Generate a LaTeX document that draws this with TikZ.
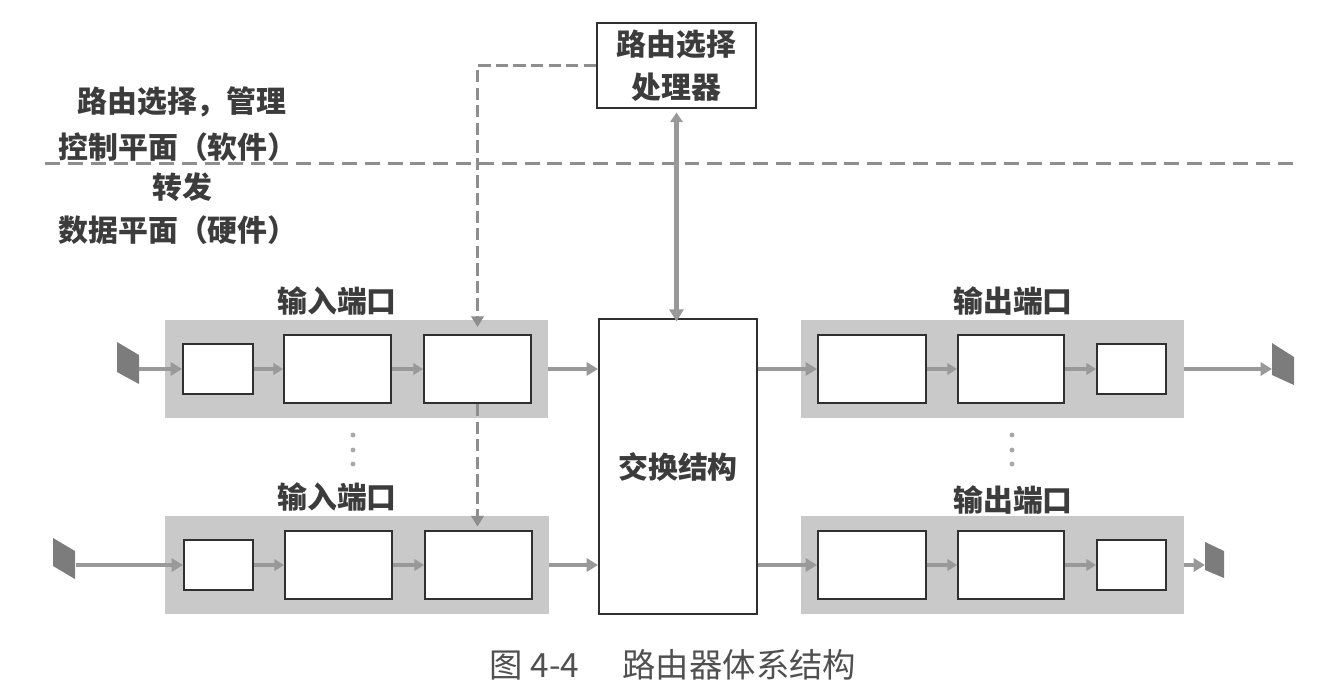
\documentclass[tikz,border=0pt]{standalone}
\usepackage{fontspec}
\newfontfamily\cjk{Noto Sans CJK SC}
\usetikzlibrary{arrows.meta}
\definecolor{portgray}{HTML}{C9C9C9}
\definecolor{arrowgray}{HTML}{999999}
\definecolor{dashgray}{HTML}{8E8E8E}
\definecolor{boxline}{HTML}{303030}
\definecolor{txt}{HTML}{3C3C3C}
\definecolor{captxt}{HTML}{505050}
\definecolor{plate}{HTML}{7C7C7C}
\definecolor{dotgray}{HTML}{A8A8A8}
\newcommand\placebox[7]{\node[#2, minimum width={(#5-#3)*0.02cm}, minimum height={(#6-#4)*0.02cm}] (#1) at ({(#3+#5)/2},{(#4+#6)/2}) {#7};}
\begin{document}
\begin{tikzpicture}[x=0.02cm,y=-0.02cm,
  lbl/.style={font=\cjk\bfseries\fontsize{17}{20}\selectfont, text=txt, inner sep=0pt},
  port/.style={fill=portgray, draw=none, inner sep=0pt},
  unit/.style={fill=white, draw=boxline, line width=1.1pt, inner sep=0pt, font=\cjk\bfseries\fontsize{17}{24.5}\selectfont, text=txt, align=center},
  garrow/.style={draw=arrowgray, line width=2.4pt, -{Triangle[length=6.5pt,width=7.5pt]}},
  sarrow/.style={draw=arrowgray, line width=1.9pt, -{Triangle[length=5.5pt,width=6.5pt]}},
  dblarrow/.style={draw=arrowgray, line width=2.4pt, {Triangle[length=5.5pt,width=7pt]}-{Triangle[length=7pt,width=8pt]}},
  ctl/.style={draw=dashgray, line width=1.4pt, dash pattern=on 7pt off 3pt, -{Triangle[length=6pt,width=7pt]}},
  planeline/.style={draw=dashgray, line width=1.7pt, dash pattern=on 8.5pt off 4.5pt},
  plateshape/.style={fill=plate, draw=none}
]
\useasboundingbox (0,0) rectangle (1340,698);

% plane separator
\coordinate (dl) at (45,163);
\coordinate (dr) at (1295,163);
\draw[planeline] (dl) -- (dr);

% left texts
\node[lbl] (t1) at (182,102) {路由选择，管理};
\node[lbl] (t2) at (178,147) {控制平面（软件）};
\node[lbl] (t3) at (182,187) {转发};
\node[lbl] (t4) at (178,230) {数据平面（硬件）};

% router processor and switch fabric
\placebox{router}{unit}{597}{23}{756}{108}{路由选择\\处理器}
\placebox{switch}{unit}{599}{319}{757}{614}{交换结构}

% ports
\placebox{in1}{port}{165}{320}{548}{418}{}
\placebox{in1a}{unit}{183}{344}{253}{394}{}
\placebox{in1b}{unit}{284}{335}{391}{403}{}
\placebox{in1c}{unit}{424}{335}{531}{403}{}
\placebox{in2}{port}{165}{516}{549}{614}{}
\placebox{in2a}{unit}{184}{540}{253}{590}{}
\placebox{in2b}{unit}{285}{531}{392}{599}{}
\placebox{in2c}{unit}{425}{531}{532}{599}{}
\placebox{out1}{port}{801}{320}{1184}{418}{}
\placebox{out1a}{unit}{818}{335}{926}{403}{}
\placebox{out1b}{unit}{958}{335}{1064}{403}{}
\placebox{out1c}{unit}{1097}{344}{1166}{394}{}
\placebox{out2}{port}{801}{516}{1184}{614}{}
\placebox{out2a}{unit}{818}{531}{926}{599}{}
\placebox{out2b}{unit}{958}{531}{1064}{599}{}
\placebox{out2c}{unit}{1097}{540}{1166}{590}{}

% port labels
\node[lbl] (inlab1) at (337,301) {输入端口};
\node[lbl] (inlab2) at (337,497) {输入端口};
\node[lbl] (outlab1) at (1013,301) {输出端口};
\node[lbl] (outlab2) at (1013,500) {输出端口};

% line plates
\fill[plateshape] (117,342) -- (139,355) -- (139,384) -- (117,372) -- cycle;
\coordinate (p1) at (139,369);
\fill[plateshape] (53,538) -- (75,551) -- (75,579) -- (53,566) -- cycle;
\coordinate (p2) at (76,565);
\fill[plateshape] (1272,343) -- (1294,357) -- (1294,385) -- (1272,375) -- cycle;
\coordinate (q1) at (1272,369);
\fill[plateshape] (1205,542) -- (1224,551) -- (1224,578) -- (1205,570) -- cycle;
\coordinate (q2) at (1205,565);

% data path arrows, top row
\draw[garrow] (p1) -- (in1a.west);
\draw[sarrow] (in1a.east) -- (in1b.west);
\draw[sarrow] (in1b.east) -- (in1c.west);
\draw[garrow] (in1.east) -- (in1.east -| switch.west);
\draw[garrow] (switch.east |- out1a.west) -- (out1a.west);
\draw[sarrow] (out1a.east) -- (out1b.west);
\draw[sarrow] (out1b.east) -- (out1c.west);
\draw[garrow] (out1.east) -- (q1);

% data path arrows, bottom row
\draw[garrow] (p2) -- (in2a.west);
\draw[sarrow] (in2a.east) -- (in2b.west);
\draw[sarrow] (in2b.east) -- (in2c.west);
\draw[garrow] (in2.east) -- (in2.east -| switch.west);
\draw[garrow] (switch.east |- out2a.west) -- (out2a.west);
\draw[sarrow] (out2a.east) -- (out2b.west);
\draw[sarrow] (out2b.east) -- (out2c.west);
\draw[garrow] (out2.east) -- (q2);

% router <-> switch
\draw[dblarrow] ([yshift=-2pt]router.south) -- ([yshift=-2pt]router.south |- switch.north);

% control (forwarding table) dashed arrows
\draw[ctl] (router.west) -- (in1c.north |- router.west) -- ([yshift=4pt]in1c.north);
\draw[ctl] (in1c.south) -- ([yshift=2pt]in1c.south |- in2c.north);

% ellipsis dots
\foreach \yy in {435,450,464} {
  \fill[dotgray] (353,\yy) circle[radius=1.4pt];
  \fill[dotgray] (1012,\yy) circle[radius=1.4pt];
}

% caption
\node[font=\cjk\fontsize{19}{22}\selectfont, text=captxt, inner sep=0pt] (cap) at (673,665) {图 4-4\hspace{1.3em}路由器体系结构};
\end{tikzpicture}
\end{document}
